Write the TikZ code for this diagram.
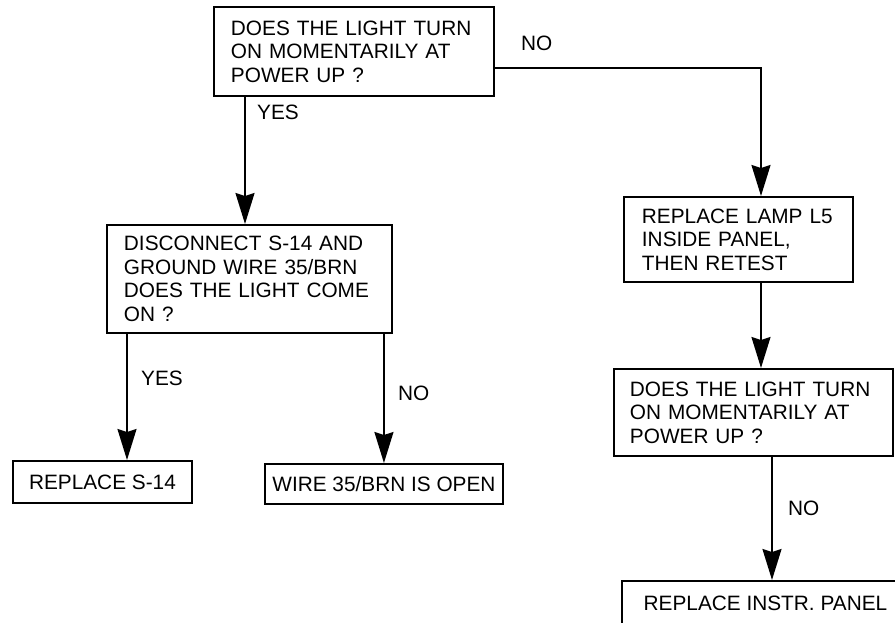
\documentclass[tikz,border=0pt]{standalone}
\usepackage{fontspec}
\setmainfont{Liberation Sans}
\usepackage{tikz}
\usetikzlibrary{arrows.meta,positioning}

\begin{document}
\begin{tikzpicture}[
  x=1pt, y=-1pt,
  font=\fontsize{20.8}{23.5}\selectfont,
  block/.style={
    draw, line width=1.9pt, align=left, anchor=north west, inner ysep=0pt
  },
  endblock/.style={
    draw, line width=1.9pt, align=center, anchor=north west, inner sep=0pt
  },
  arrow/.style={-{Stealth[length=31pt, width=19pt, inset=3pt]}, line width=1.9pt},
  answer/.style={anchor=west, inner sep=0pt}
]
\useasboundingbox (0,0) rectangle (895,622);

\node[block, inner xsep=17pt, text width=246pt, minimum height=89pt] (q1) at (213,6)
  {DOES THE LIGHT TURN\\ON MOMENTARILY AT\\POWER UP ?};
\node[block, inner xsep=17pt, text width=251pt, minimum height=108pt] (q2) at (106,224)
  {DISCONNECT S-14 AND\\GROUND WIRE 35/BRN\\DOES THE LIGHT COME\\ON ?};
\node[block, inner xsep=18pt, text width=193pt, minimum height=85pt] (lamp) at (623,196)
  {REPLACE LAMP L5\\INSIDE PANEL,\\THEN RETEST};
\node[block, inner xsep=16pt, text width=247pt, minimum height=87pt] (q3) at (613,368)
  {DOES THE LIGHT TURN\\ON MOMENTARILY AT\\POWER UP ?};
\node[endblock, minimum width=179pt, minimum height=42pt] (s14) at (12,460) {REPLACE S-14};
\node[endblock, minimum width=238pt, minimum height=40pt] (wire) at (264,463) {WIRE 35/BRN IS OPEN};
\node[endblock, minimum width=287pt, minimum height=44pt] (instr) at (621,580) {REPLACE INSTR. PANEL};

% answers
\node[answer] (yesA) at (257,112) {YES};
\node[answer] (noA) at (521,43) {NO};
\node[answer] (yesB) at (141,378) {YES};
\node[answer] (noB) at (398,393) {NO};
\node[answer] (noC) at (788,508) {NO};

% columns for the arrows
\coordinate (mcol) at (245,0);
\coordinate (lcol) at (127,0);
\coordinate (rcol) at (761,0);
\coordinate (rcolB) at (772,0);

\draw[arrow] (q1.south -| mcol) -- (q2.north -| mcol);
\draw[arrow] ([yshift=-16.5pt]q1.east) -| (lamp.north -| rcol);
\draw[arrow] (q2.south -| lcol) -- (s14.north -| lcol);
\draw[arrow] (q2.south -| wire.north) -- (wire.north);
\draw[arrow] (lamp.south -| rcol) -- (q3.north -| rcol);
\draw[arrow] (q3.south -| rcolB) -- (instr.north -| rcolB);
\end{tikzpicture}
\end{document}
